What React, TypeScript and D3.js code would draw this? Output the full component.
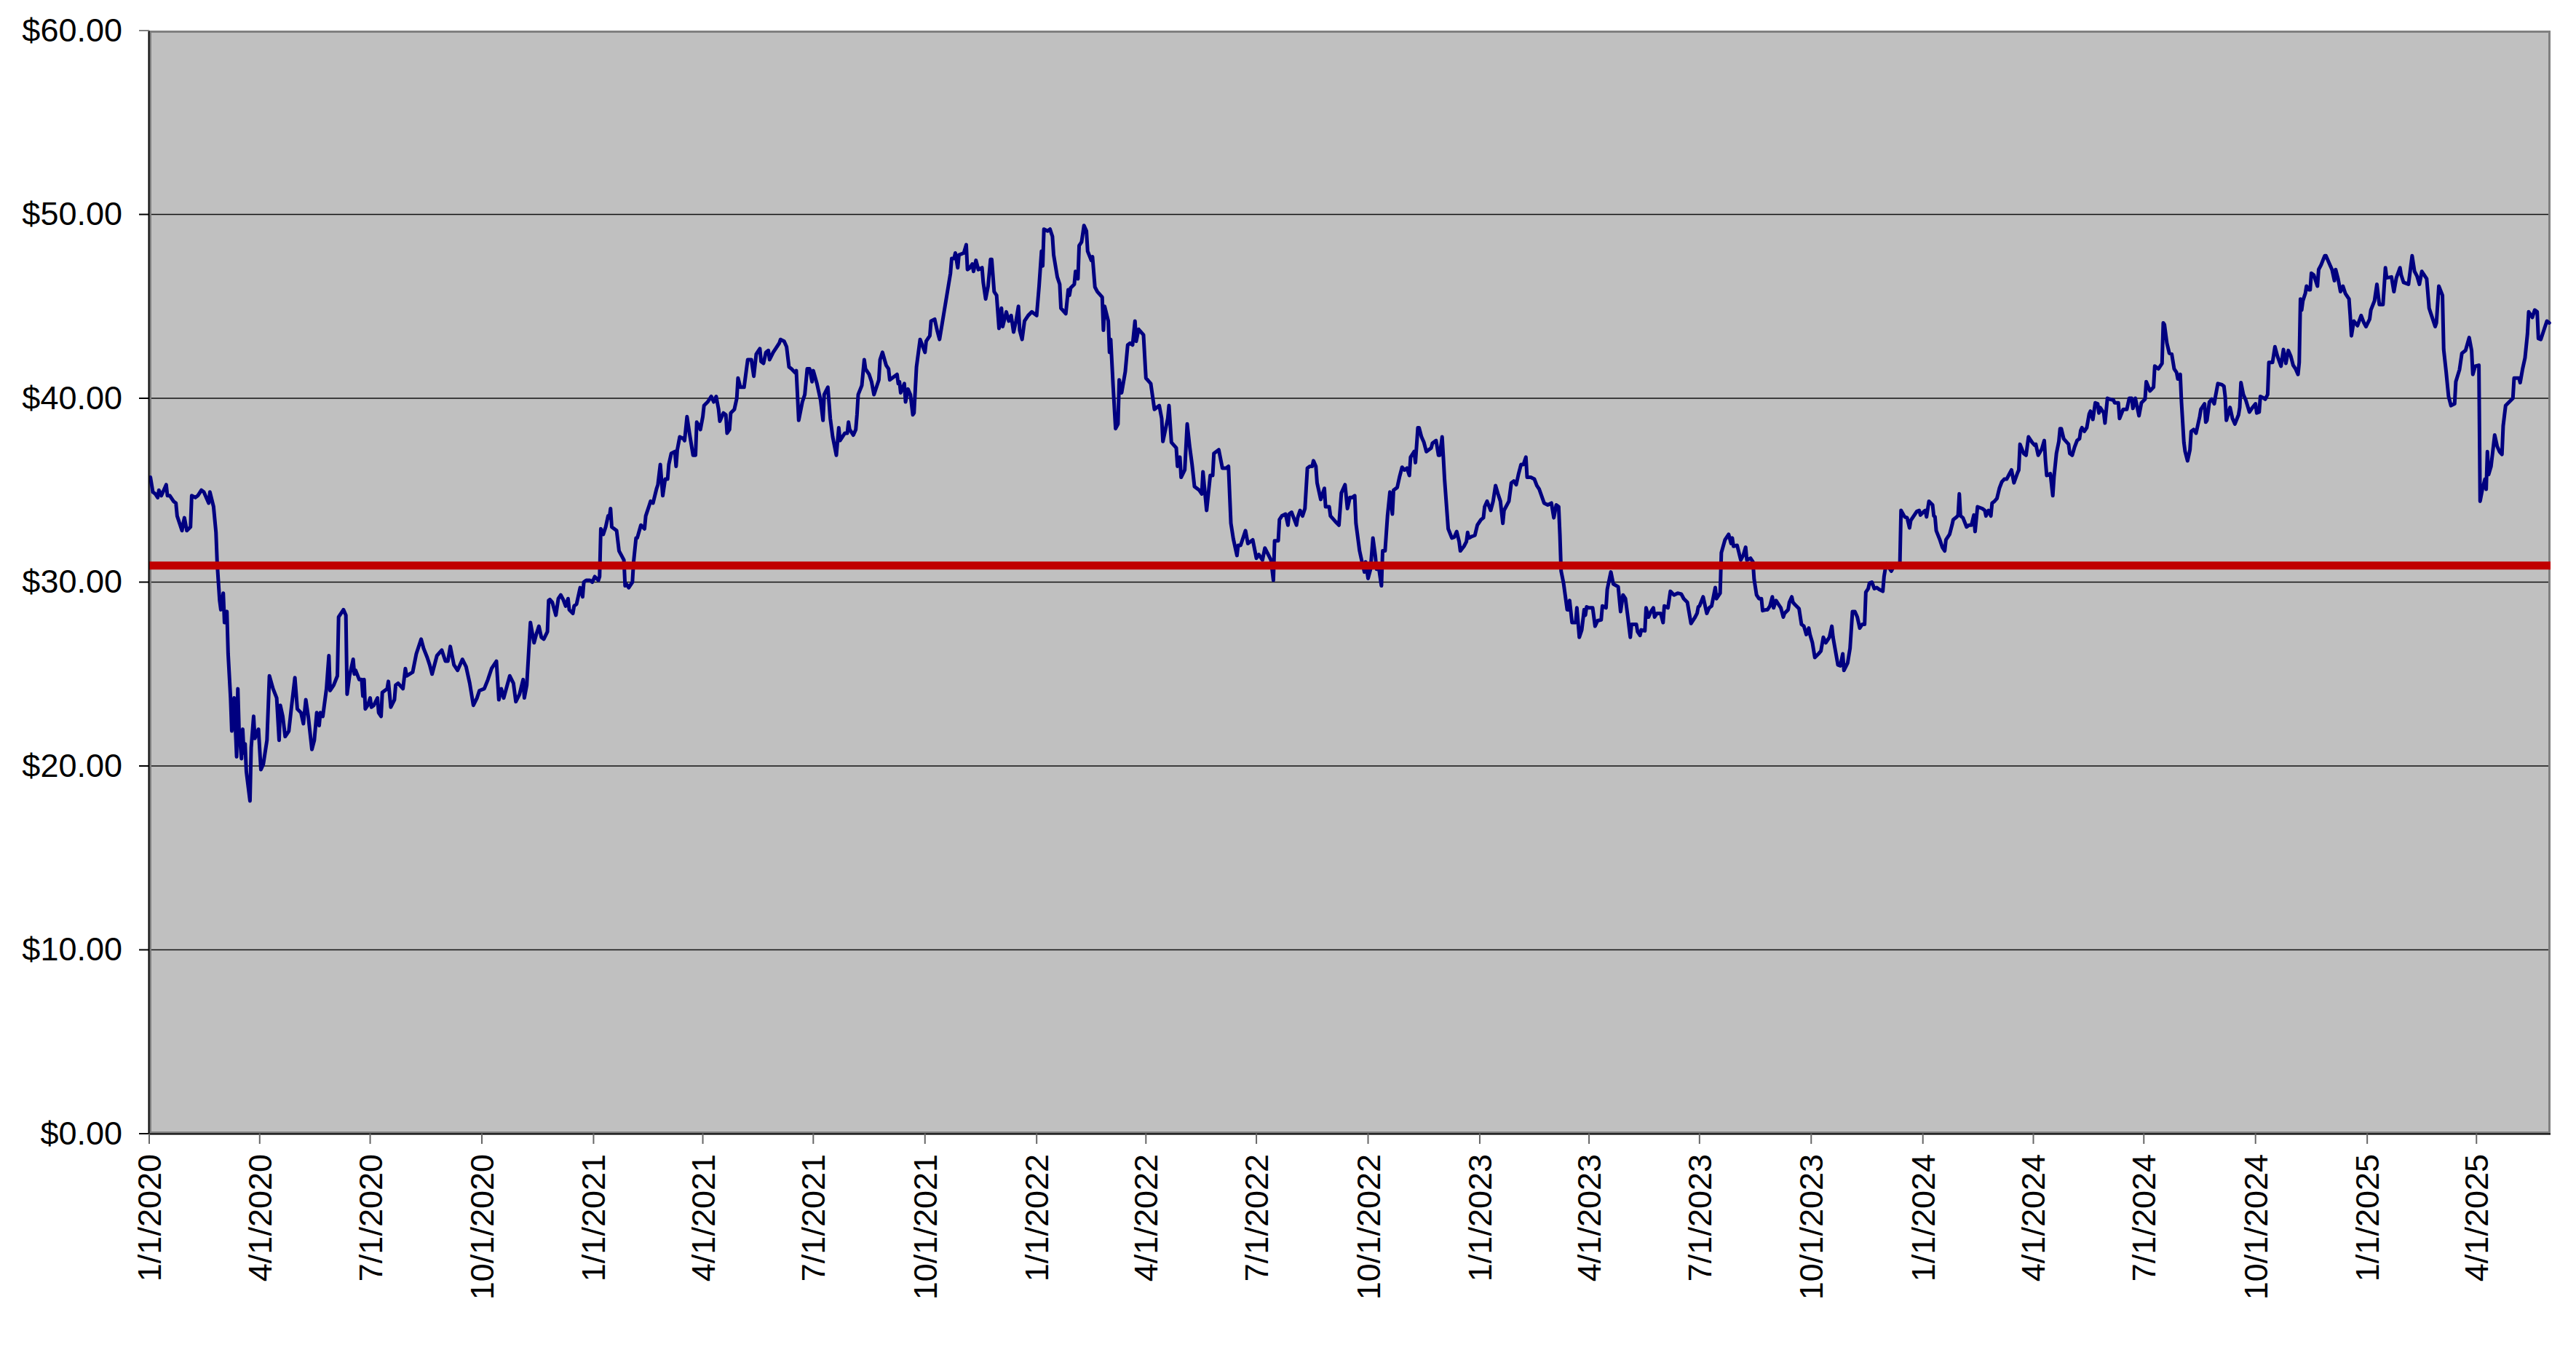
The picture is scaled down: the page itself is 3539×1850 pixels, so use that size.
import React from 'react';
import * as d3 from 'd3';

// Date axis: days counted from START
const START = new Date(2020, 0, 1);
const END = new Date(2025, 5, 1);
const yTickValues = [0, 10, 20, 30, 40, 50, 60];
const averagePrice = 30.9;

// [days since 1/1/2020, closing price]
const pricesPart1: [number, number][] = [
  [1,35.7],[3,34.9],[5,34.8],[7,34.6],[8,35.0],[10,34.7],[14,35.3],[15,34.7],[17,34.7],[20,34.4],[22,34.3],[23,33.6],[27,32.8],[28,33.2],[29,33.5],[31,32.8],[34,33.0],[35,34.7],[38,34.6],[40,34.7],[43,35.0],[45,34.9],[49,34.3],[50,34.9],[53,34.1],[55,32.7],[56,31.0],[58,29.0],[59,28.5],[61,29.4],[62,27.8],[64,28.4],[65,26.1],[67,23.7],[68,21.9],[70,23.7],[72,20.5],[73,24.2],[74,22.0],[76,20.4],[77,22.0],[78,20.7],[79,21.2],[80,19.7],[83,18.1],[84,21.0],[86,22.7],[87,21.5],[90,22.0],[92,19.8],[94,20.1],[97,21.4],[99,24.9],[102,24.2],[105,23.7],[107,21.4],[108,23.3],[110,22.7],[112,21.6],[115,21.9],[117,23.1],[120,24.8],[122,23.1],[125,22.9],[127,22.3],[129,23.6],[131,22.7],[134,20.9],[136,21.4],[138,22.9],[140,22.2],[141,22.9],[143,22.7],[146,24.2],[148,26.0],[149,24.1],[152,24.4],[155,24.9],[156,28.1],[160,28.5],[162,28.2],[163,23.9],[165,24.9],[168,25.8],[169,25.0],[170,25.2],[173,24.7],[175,24.7],[176,23.8],[177,24.7],[178,23.1],[180,23.3],[182,23.7],[183,23.2],[185,23.3],[188,23.7],[189,22.9],[191,22.7],[192,24.0],[196,24.2],[197,24.6],[199,23.2],[202,23.6],[203,24.4],[205,24.5],[209,24.2],[211,25.3],[212,24.9],[217,25.1],[220,26.1],[224,26.9],[226,26.4],[229,25.9],[231,25.5],[233,25.0],[237,26.0],[241,26.3],[244,25.7],[246,25.7],[248,26.5],[251,25.5],[254,25.2],[258,25.8],[261,25.4],[264,24.5],[267,23.3],[270,23.7],[272,24.1],[276,24.2],[279,24.7],[282,25.3],[286,25.7],[288,23.6],[290,24.2],[292,23.7],[297,24.9],[300,24.5],[302,23.5],[305,23.9],[308,24.7],[309,23.7],[311,24.4],[314,27.8],[317,26.7],[319,27.2],[321,27.6],[323,27.0],[325,26.9],[328,27.3],[329,29.0],
];
const pricesPart2: [number, number][] = [
  [330,29.05],[332,28.9],[335,28.2],[337,29.1],[339,29.3],[341,29.05],[343,28.7],[345,29.1],[346,28.5],[349,28.3],[350,28.7],[352,28.8],[355,29.7],[357,29.2],[358,30.0],[360,30.1],[363,30.1],[365,30.0],[367,30.3],[370,30.1],[371,30.3],[372,32.9],[374,32.6],[376,33.0],[378,33.6],[379,33.5],[380,34.0],[381,33.0],[385,32.8],[387,31.7],[391,31.2],[392,29.8],[393,29.9],[395,29.7],[398,30.0],[399,31.1],[401,32.4],[402,32.4],[405,33.1],[408,32.9],[409,33.6],[412,34.2],[413,34.4],[415,34.3],[418,35.1],[419,35.3],[421,36.4],[423,34.7],[425,35.6],[427,35.6],[428,36.4],[430,37.0],[433,37.1],[434,36.3],[435,37.2],[437,37.9],[440,37.8],[441,37.7],[443,39.0],[445,38.1],[448,36.9],[450,36.9],[451,38.7],[452,38.6],[454,38.3],[456,39.0],[457,39.6],[460,39.8],[463,40.1],[465,39.8],[467,40.1],[469,39.4],[470,38.75],[473,39.2],[475,39.1],[476,38.1],[478,38.3],[479,39.2],[482,39.4],[484,40.0],[485,41.1],[487,40.6],[490,40.6],[493,42.1],[496,42.1],[498,41.2],[500,42.4],[503,42.7],[504,42.0],[506,41.9],[508,42.5],[510,42.6],[511,42.1],[514,42.5],[516,42.7],[519,43.0],[520,43.2],[523,43.1],[525,42.8],[527,41.7],[529,41.6],[532,41.4],[533,41.5],[535,38.8],[538,39.8],[540,40.2],[542,41.6],[544,41.6],[546,40.9],[547,41.5],[550,40.8],[553,39.9],[555,38.8],[556,40.2],[559,40.6],[561,38.9],[563,37.9],[566,36.9],[568,38.4],[569,37.7],[573,38.1],[575,38.1],[576,38.7],[577,38.3],[580,38.0],[582,38.3],[583,39.1],[584,40.2],[587,40.7],[589,42.1],[590,41.6],[593,41.3],[595,40.9],[597,40.2],[601,41.0],[602,42.1],[604,42.5],[607,41.8],[609,41.6],[610,41.0],[616,41.3],[617,40.8],[618,40.9],[619,40.3],[622,40.8],[623,39.8],[625,40.5],[627,40.2],[629,39.1],[630,39.2],[632,41.7],[635,43.2],[639,42.5],[640,43.1],[643,43.4],[644,44.2],[647,44.3],[649,43.7],[651,43.2],
];
const pricesPart3: [number, number][] = [
  [660,46.8],[661,47.6],[663,47.6],[664,47.9],[666,47.1],[667,47.8],[671,47.9],[673,48.35],[674,47.0],[676,47.1],[678,47.3],[679,46.9],[681,47.5],[683,47.0],[686,47.1],[687,46.3],[689,45.4],[691,46.1],[693,47.55],[694,47.55],[696,45.8],[698,45.6],[700,43.8],[702,44.9],[703,43.9],[706,44.7],[708,44.2],[710,44.5],[712,43.6],[714,44.2],[716,45.0],[717,43.7],[719,43.2],[721,44.2],[724,44.5],[727,44.7],[731,44.5],[733,46.1],[735,48.0],[736,47.2],[737,49.2],[740,49.1],[742,49.2],[744,48.8],[745,47.8],[748,46.6],[750,46.2],[751,44.9],[755,44.6],[757,45.9],[758,45.6],[759,46.0],[762,46.2],[763,46.9],[765,46.5],[766,48.3],[768,48.5],[770,49.4],[772,49.1],[773,48.0],[776,47.5],[777,47.7],[779,46.05],[781,45.8],[785,45.5],[786,43.7],[787,45.0],[790,44.2],[791,42.5],[792,43.2],[794,40.65],[796,38.35],[798,38.6],[799,41.0],[801,40.3],[804,41.45],[806,42.9],[808,43.0],[810,42.9],[812,44.2],[813,43.1],[815,43.75],[819,43.45],[821,41.1],[825,40.8],[828,39.4],[832,39.6],[834,38.9],[835,37.65],[839,38.9],[840,39.6],[842,37.6],[846,37.3],[847,36.3],[849,36.8],[850,35.7],[853,36.1],[855,38.6],[857,37.4],[859,36.4],[861,35.2],[865,35.0],[867,34.8],[868,36.0],[871,33.9],[874,35.8],[876,35.8],[877,37.0],[881,37.2],[884,36.2],[887,36.2],[889,36.3],[891,33.2],[893,32.35],[896,31.45],[897,32.0],[899,32.0],[903,32.8],[905,32.1],[909,32.3],[912,31.3],[914,31.5],[917,31.2],[919,31.85],[921,31.6],[924,31.2],[926,30.1],[927,32.25],[930,32.25],[931,33.4],[933,33.6],[936,33.7],[938,33.1],[939,33.7],[941,33.8],[945,33.1],[946,33.5],[948,33.9],[950,33.6],[952,34.0],[954,36.2],[956,36.3],[958,36.3],[959,36.6],[961,36.3],[962,35.4],[965,34.5],[968,35.1],[969,34.1],[972,34.1],[973,33.6],[977,33.3],[980,33.1],[982,34.85],[985,35.3],[987,34.0],[989,34.6],
];
const pricesPart4: [number, number][] = [
  [991,34.6],[993,34.7],[994,33.2],[997,31.7],[999,31.1],[1001,30.55],[1002,31.1],[1004,30.2],[1006,30.7],[1008,32.4],[1010,31.4],[1011,30.7],[1013,30.7],[1015,29.8],[1016,31.7],[1018,31.7],[1020,33.6],[1022,34.9],[1024,33.7],[1025,35.0],[1028,35.15],[1030,35.75],[1032,36.25],[1034,36.1],[1036,36.2],[1038,35.8],[1039,36.8],[1042,37.1],[1043,36.5],[1045,38.4],[1046,38.4],[1048,37.9],[1050,37.6],[1052,37.1],[1056,37.3],[1057,37.55],[1060,37.7],[1062,36.9],[1063,36.9],[1065,37.9],[1066,36.8],[1067,35.6],[1070,32.9],[1073,32.4],[1075,32.45],[1077,32.75],[1079,32.2],[1080,31.7],[1083,31.95],[1085,32.2],[1086,32.7],[1087,32.4],[1090,32.5],[1092,32.55],[1094,33.1],[1097,33.4],[1099,33.5],[1100,34.1],[1102,34.4],[1105,33.9],[1107,34.4],[1109,35.25],[1111,34.8],[1113,34.4],[1115,33.2],[1116,33.9],[1120,34.4],[1122,35.4],[1124,35.5],[1126,35.3],[1128,35.9],[1130,36.4],[1132,36.4],[1134,36.8],[1135,35.7],[1138,35.7],[1141,35.6],[1143,35.25],[1145,35.05],[1149,34.3],[1152,34.2],[1155,34.3],[1157,33.5],[1159,34.2],[1161,34.1],[1162,32.6],[1163,30.6],[1165,29.95],[1168,28.5],[1169,28.5],[1170,29.0],[1172,27.8],[1175,27.8],[1176,28.6],[1178,27.0],[1180,27.4],[1182,28.5],[1183,28.2],[1184,28.65],[1186,28.6],[1189,28.6],[1191,27.6],[1193,27.9],[1196,27.95],[1197,28.7],[1200,28.6],[1201,29.6],[1204,30.55],[1206,29.9],[1210,29.75],[1212,28.4],[1214,29.3],[1216,29.1],[1218,28.1],[1220,27.0],[1221,27.7],[1225,27.7],[1226,27.3],[1228,27.1],[1229,27.4],[1232,27.35],[1233,28.6],[1235,28.1],[1237,28.4],[1239,28.6],[1240,28.1],[1242,28.3],[1245,28.3],[1247,27.8],[1248,28.7],[1251,28.6],[1253,29.5],[1256,29.3],[1259,29.4],[1262,29.35],[1264,29.1],[1267,28.9],[1270,27.75],[1273,28.05],[1275,28.3],[1276,28.65],[1277,28.7],[1280,29.2],[1283,28.3],[1285,28.6],[1287,28.7],[1290,29.7],[1291,29.1],[1294,29.4],[1295,31.6],[1298,32.3],[1301,32.6],[1303,32.1],[1304,32.4],[1305,31.95],[1308,32.0],[1311,31.2],[1313,31.45],[1315,31.9],[1316,31.2],[1319,31.3],
];
const pricesPart5: [number, number][] = [
  [1321,31.1],[1322,30.15],[1324,29.3],[1326,29.1],[1328,29.1],[1329,28.45],[1332,28.5],[1333,28.5],[1335,28.7],[1337,29.2],[1338,28.6],[1340,29.0],[1342,28.8],[1344,28.6],[1346,28.1],[1347,28.3],[1350,28.5],[1351,28.9],[1353,29.2],[1354,28.9],[1356,28.75],[1359,28.55],[1361,27.7],[1363,27.6],[1365,27.15],[1367,27.5],[1368,27.15],[1370,26.7],[1372,25.9],[1375,26.1],[1377,26.25],[1379,27.0],[1381,26.7],[1384,27.0],[1386,27.6],[1387,27.0],[1389,26.25],[1391,25.5],[1393,25.45],[1395,26.1],[1396,25.2],[1399,25.6],[1401,26.4],[1403,28.4],[1405,28.4],[1407,28.1],[1409,27.5],[1411,27.7],[1413,27.7],[1414,29.45],[1416,29.65],[1417,29.95],[1419,30.0],[1421,29.65],[1423,29.7],[1425,29.6],[1428,29.5],[1429,30.3],[1430,30.7],[1431,31.0],[1435,30.6],[1437,30.85],[1440,30.8],[1442,30.85],[1443,33.9],[1446,33.55],[1448,33.5],[1450,32.95],[1451,33.35],[1454,33.65],[1456,33.85],[1458,33.9],[1459,33.65],[1462,33.85],[1463,33.9],[1464,33.55],[1466,34.4],[1469,34.2],[1470,33.6],[1471,33.55],[1472,32.8],[1475,32.3],[1477,31.9],[1479,31.7],[1480,32.3],[1483,32.6],[1485,33.1],[1486,33.4],[1489,33.55],[1490,33.65],[1491,34.8],[1492,33.6],[1494,33.5],[1497,33.0],[1499,33.1],[1501,33.1],[1503,33.65],[1504,32.75],[1506,34.1],[1510,34.0],[1512,33.9],[1513,33.6],[1515,33.9],[1517,33.6],[1518,34.3],[1520,34.4],[1522,34.55],[1524,35.1],[1526,35.45],[1528,35.6],[1530,35.6],[1532,35.85],[1534,36.1],[1536,35.4],[1539,35.95],[1540,36.1],[1541,37.5],[1544,37.0],[1546,36.9],[1548,37.9],[1551,37.6],[1553,37.45],[1554,37.5],[1556,36.9],[1559,37.25],[1561,37.7],[1562,36.6],[1563,35.8],[1566,35.9],[1568,34.7],[1569,35.7],[1571,37.0],[1573,37.65],[1574,38.35],[1575,38.35],[1577,37.8],[1581,37.5],[1582,37.0],[1584,36.9],[1586,37.35],[1588,37.7],[1590,37.8],[1591,38.25],[1592,38.4],[1594,38.2],[1596,38.4],[1598,39.15],[1599,39.3],[1601,38.85],[1603,39.75],[1605,39.7],[1606,39.2],[1607,39.5],[1610,39.2],[1611,38.65],[1613,40.0],[1615,39.95],[1618,39.9],[1619,39.75],[1622,39.75],[1623,38.9],[1626,39.4],[1629,39.4],[1631,40.0],[1633,40.0],[1634,39.45],[1636,40.0],[1639,39.05],[1641,39.75],[1644,39.95],[1645,40.9],[1648,40.4],
];
const pricesPart6: [number, number][] = [
  [1651,40.6],[1652,41.75],[1655,41.6],[1658,41.9],[1659,44.1],[1660,44.0],[1662,43.0],[1664,42.45],[1666,42.4],[1668,41.6],[1670,41.4],[1671,41.05],[1673,41.3],[1674,39.8],[1676,37.6],[1677,37.1],[1679,36.6],[1681,37.2],[1682,38.2],[1684,38.3],[1686,38.1],[1689,39.0],[1690,39.4],[1693,39.7],[1694,38.7],[1695,38.8],[1697,39.8],[1699,39.95],[1701,39.7],[1702,40.1],[1704,40.8],[1707,40.75],[1709,40.65],[1710,40.1],[1711,38.8],[1714,39.5],[1716,38.9],[1718,38.6],[1721,39.1],[1722,39.5],[1723,40.85],[1725,40.2],[1727,39.9],[1730,39.25],[1732,39.45],[1735,39.7],[1736,39.2],[1738,39.25],[1739,40.1],[1742,40.0],[1743,39.95],[1745,40.2],[1746,41.95],[1749,41.95],[1751,42.8],[1753,42.3],[1756,41.75],[1758,42.65],[1760,41.9],[1762,42.6],[1764,42.3],[1766,41.8],[1768,41.6],[1770,41.3],[1771,41.95],[1772,45.4],[1773,44.8],[1774,45.3],[1776,45.7],[1777,46.1],[1779,45.9],[1780,45.9],[1781,46.8],[1783,46.7],[1786,46.1],[1787,47.0],[1789,47.25],[1792,47.75],[1793,47.75],[1796,47.3],[1798,47.0],[1800,46.4],[1801,47.0],[1803,46.5],[1805,45.8],[1807,46.1],[1809,45.7],[1812,45.4],[1813,44.5],[1814,43.4],[1816,44.2],[1819,43.95],[1822,44.5],[1824,44.15],[1826,43.9],[1829,44.3],[1830,44.8],[1833,45.3],[1835,46.2],[1837,45.1],[1840,45.1],[1842,47.1],[1843,46.55],[1847,46.6],[1849,45.8],[1851,46.55],[1854,47.1],[1855,46.7],[1857,46.3],[1861,46.2],[1864,47.75],[1866,46.9],[1868,46.65],[1870,46.2],[1872,46.9],[1876,46.5],[1878,44.9],[1880,44.5],[1883,43.9],[1884,44.1],[1886,46.1],[1889,45.6],[1890,42.65],[1892,41.45],[1894,40.1],[1896,39.6],[1899,39.7],[1900,40.9],[1903,41.55],[1905,42.45],[1908,42.6],[1911,43.3],[1913,42.6],[1914,41.3],[1916,41.75],[1919,41.8],[1920,34.4],[1922,35.1],[1924,35.6],[1925,35.05],[1926,37.1],[1927,35.85],[1929,36.3],[1932,38.0],[1934,37.4],[1936,37.1],[1938,36.95],[1939,38.5],[1941,39.6],[1944,39.8],[1947,40.0],[1948,41.1],[1952,41.1],[1953,40.85],[1955,41.6],[1957,42.2],[1959,43.5],[1960,44.7],[1963,44.4],[1965,44.8],[1967,44.7],[1968,43.25],[1970,43.2],[1973,43.8],[1975,44.2],[1977,44.1],
];

const FONT = '"Liberation Sans", Arial, Helvetica, sans-serif';

export default function App() {
  const W = 3539, H = 1850;
  const left = 205, right = 3504, top = 42, bottom = 1557;

  const x = d3.scaleTime().domain([START, END]).range([left, right]);
  const y = d3.scaleLinear().domain([0, 60]).range([bottom, top]);

  const series = [...pricesPart1, ...pricesPart2, ...pricesPart3, ...pricesPart4, ...pricesPart5, ...pricesPart6]
    .map(([d, v]) => ({ date: d3.timeDay.offset(START, d), v }));

  const line = d3.line<{ date: Date; v: number }>()
    .x((d) => x(d.date))
    .y((d) => y(d.v));

  const xTicks = x.ticks(d3.timeMonth.every(3)!);
  const fmtDate = (d: Date) => `${d.getMonth() + 1}/${d.getDate()}/${d.getFullYear()}`;
  const fmtPrice = (v: number) => `$${v.toFixed(2)}`;

  return (
    <svg width={W} height={H} style={{ position: 'absolute', left: 0, top: 0, background: '#fff' }}
      fontFamily={FONT}>
      <rect x={left} y={top} width={right - left} height={bottom - top} fill="#C0C0C0" />
      {yTickValues.filter((v) => v > 0 && v < 60).map((v) => (
        <line key={`g${v}`} x1={left} x2={right} y1={y(v)} y2={y(v)} stroke="#111" strokeWidth={1.4} />
      ))}
      <rect x={left + 1.5} y={top + 1.5} width={right - left - 3} height={bottom - top - 3}
        fill="none" stroke="#808080" strokeWidth={3} />
      <path d={line(series) ?? ''} fill="none" stroke="#000080" strokeWidth={5}
        strokeLinejoin="round" strokeLinecap="round" />
      <line x1={left} x2={right} y1={y(averagePrice)} y2={y(averagePrice)} stroke="#C00000" strokeWidth={11} />
      {/* axes */}
      <line x1={left - 0.5} x2={left - 0.5} y1={top} y2={bottom} stroke="#000" strokeWidth={2} />
      <line x1={left} x2={right} y1={bottom + 0.5} y2={bottom + 0.5} stroke="#000" strokeWidth={2} />
      {yTickValues.map((v) => (
        <g key={`y${v}`}>
          <line x1={left - 14} x2={left} y1={y(v)} y2={y(v)} stroke={v === 60 ? '#808080' : '#000'} strokeWidth={2} />
          <text x={168} y={y(v)} dy="0.33em" textAnchor="end" fontSize={45} fill="#000">{fmtPrice(v)}</text>
        </g>
      ))}
      {xTicks.map((d, i) => {
        const tx = x(d);
        return (
          <g key={`x${i}`}>
            <line x1={tx} x2={tx} y1={bottom} y2={bottom + 14} stroke="#666" strokeWidth={2} />
            <text transform={`translate(${tx + 16},1585) rotate(-90)`} textAnchor="end" fontSize={45} fill="#000">
              {fmtDate(d)}
            </text>
          </g>
        );
      })}
    </svg>
  );
}
